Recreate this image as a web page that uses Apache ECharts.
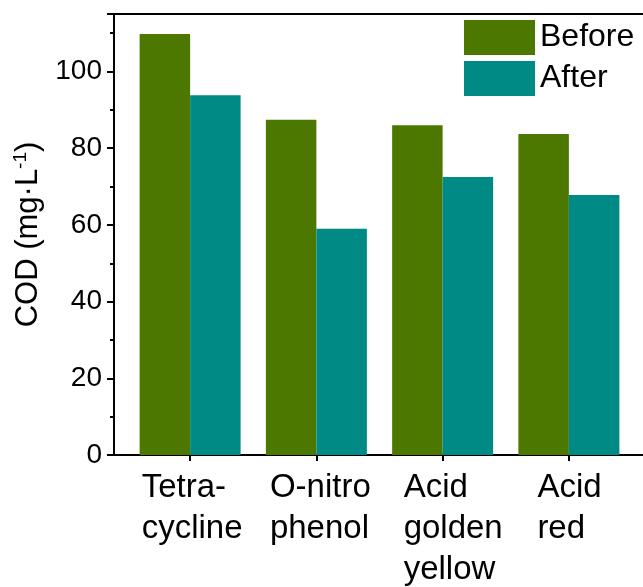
<!DOCTYPE html>
<html>
<head>
<meta charset="utf-8">
<script src="https://cdn.jsdelivr.net/npm/echarts@6/dist/echarts.min.js"></script>
<style>
html,body{margin:0;padding:0;background:#fff;}
#chart{width:643px;height:587px;}
</style>
</head>
<body>
<div id="chart"></div>
<script>
var categories = ['Tetra-\ncycline', 'O-nitro\nphenol', 'Acid\ngolden\nyellow', 'Acid\nred'];
var seriesNames = ['Before', 'After'];
var beforeValues = [109.8, 87.4, 86.0, 83.7];
var afterValues = [93.8, 59.0, 72.5, 67.8];
var yTicks = [0, 20, 40, 60, 80, 100];

var FONT = "'Liberation Sans', Arial, sans-serif";
var GREEN = '#4d7800';
var TEAL = '#008a85';
var LABEL_FS = 33;
var labelShiftPad = [4, 8, 22, 2];

// measure label block widths so lines are left-aligned within a centered block
var cv = document.createElement('canvas').getContext('2d');
cv.font = LABEL_FS + 'px ' + FONT;
var rich = {};
categories.forEach(function (c, i) {
  var w = 0;
  c.split('\n').forEach(function (l) { w = Math.max(w, cv.measureText(l).width); });
  rich['b' + i] = {width: Math.ceil(w), align: 'left', fontSize: LABEL_FS, lineHeight: 41,
    color: '#000', fontFamily: FONT, padding: [0, 0, 0, labelShiftPad[i]]};
});

var chart = echarts.init(document.getElementById('chart'), null, {renderer: 'canvas'});
var option = {
  backgroundColor: '#fff',
  animation: false,
  textStyle: {fontFamily: FONT},
  legend: {
    data: seriesNames,
    orient: 'vertical',
    left: 459,
    top: 15,
    itemWidth: 71,
    itemHeight: 35,
    itemGap: 6,
    icon: 'rect',
    itemStyle: {borderWidth: 0},
    textStyle: {fontSize: 32, lineHeight: 35, color: '#000', fontFamily: FONT}
  },
  grid: [
    {left: 114, right: 0, top: 14, bottom: 132, containLabel: false},
    {left: 127, right: 11, top: 14, bottom: 132, containLabel: false}
  ],
  xAxis: [
    {type: 'value', gridIndex: 0, min: 0, max: 1, position: 'bottom',
     axisLine: {show: true, lineStyle: {color: '#000', width: 2}},
     axisTick: {show: false}, axisLabel: {show: false}, splitLine: {show: false}},
    {type: 'value', gridIndex: 0, min: 0, max: 1, position: 'top',
     axisLine: {show: true, lineStyle: {color: '#000', width: 2}},
     axisTick: {show: false}, axisLabel: {show: false}, splitLine: {show: false}},
    {type: 'category', gridIndex: 1, data: categories, position: 'bottom',
     axisLine: {show: false},
     axisTick: {show: true, alignWithLabel: true, length: 6, lineStyle: {color: '#000', width: 2}},
     axisLabel: {
       margin: 12,
       interval: 0,
       formatter: function (v, i) {
         return v.split('\n').map(function (l) { return '{b' + i + '|' + l + '}'; }).join('\n');
       },
       rich: rich
     },
     splitLine: {show: false}}
  ],
  yAxis: [
    {type: 'value', gridIndex: 0, min: 0, max: 115, interval: 20,
     name: '{a|COD (mg·L}{s|-1}{a|)}',
     nameLocation: 'middle',
     nameGap: 52,
     nameRotate: 90,
     nameTextStyle: {
       rich: {
         a: {fontSize: 31, color: '#000', fontFamily: FONT, lineHeight: 36},
         s: {fontSize: 19, color: '#000', fontFamily: FONT, verticalAlign: 'top', lineHeight: 36, padding: [0, 0, 14, 0]}
       }
     },
     axisLine: {show: true, lineStyle: {color: '#000', width: 2}},
     axisTick: {show: true, length: 7, lineStyle: {color: '#000', width: 2}},
     minorTick: {show: true, splitNumber: 2, length: 4, lineStyle: {color: '#000', width: 2}},
     axisLabel: {
       fontSize: 28, color: '#000', margin: 12, fontFamily: FONT,
       customValues: yTicks
     },
     splitLine: {show: false}},
    {type: 'value', gridIndex: 1, min: 0, max: 115, show: false}
  ],
  series: [
    {name: seriesNames[0], type: 'bar', xAxisIndex: 2, yAxisIndex: 1, data: beforeValues,
     barWidth: 50.5, barGap: '0%', itemStyle: {color: GREEN}},
    {name: seriesNames[1], type: 'bar', xAxisIndex: 2, yAxisIndex: 1, data: afterValues,
     barWidth: 50.5, barGap: '0%', itemStyle: {color: TEAL}}
  ]
};
chart.setOption(option);
</script>
</body>
</html>
